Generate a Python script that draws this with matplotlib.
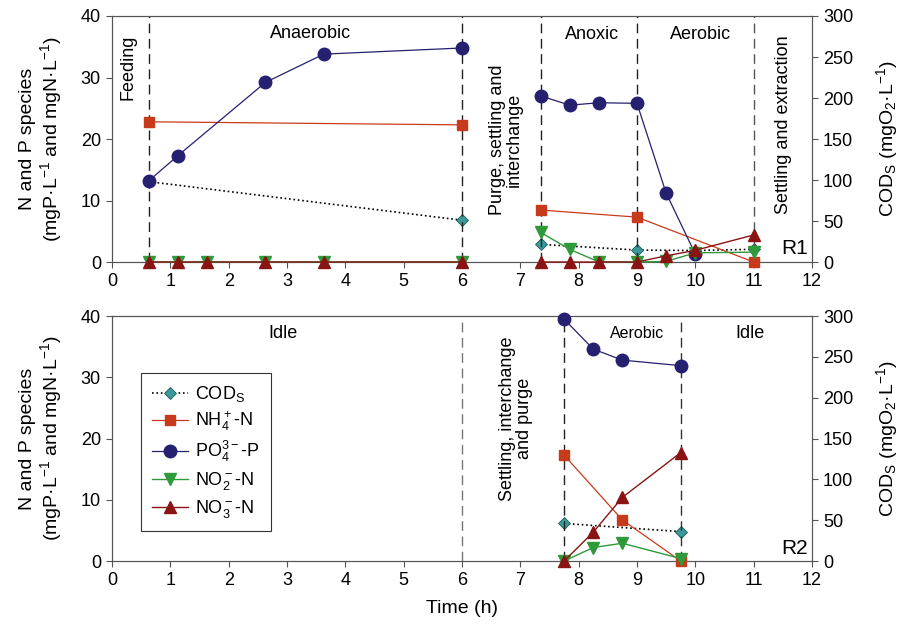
import numpy as np
import matplotlib
matplotlib.use('Agg')
import matplotlib.pyplot as plt

plt.rcParams['font.family'] = ['Liberation Sans', 'DejaVu Sans']
plt.rcParams['mathtext.fontset'] = 'custom'
plt.rcParams['mathtext.rm'] = 'Liberation Sans'

nan = np.nan

# ---- R1 (top panel) ----
r1_t_po4 = [0.63, 1.13, 2.63, 3.63, 6.0, nan, 7.35, 7.85, 8.35, 9.0, 9.5, 10.0]
r1_po4 = [13.2, 17.3, 29.2, 33.8, 34.8, nan, 27.0, 25.5, 25.9, 25.8, 11.2, 1.3]
r1_t_nh4 = [0.63, 6.0, nan, 7.35, 9.0, 11.0]
r1_nh4 = [22.8, 22.3, nan, 8.45, 7.3, 0.0]
r1_t_nox = [0.63, 1.13, 1.63, 2.63, 3.63, 6.0, nan, 7.35, 7.85, 8.35, 9.0, 9.5, 10.0, 11.0]
r1_no2 = [0, 0, 0, 0, 0, 0, nan, 4.8, 2.05, 0, 0, 0.1, 1.5, 1.6]
r1_no3 = [0, 0, 0, 0, 0, 0, nan, 0, 0, 0, 0, 1.0, 1.9, 4.4]
r1_t_cod = [0.63, 6.0, nan, 7.35, 9.0, 10.0, 11.0]
r1_cod = [98, 51, nan, 21.5, 14.6, 14.0, 15.5]
r1_phases = [0.63, 6.0, 7.35, 9.0, 11.0]

# ---- R2 (bottom panel) ----
r2_t = [7.75, 8.25, 8.75, 9.75]
r2_po4 = [39.5, 34.6, 32.8, 31.9]
r2_t_nh4 = [7.75, 8.75, 9.75]
r2_nh4 = [17.3, 6.7, 0.0]
r2_no2 = [0, 2.2, 2.9, 0.4]
r2_no3 = [0, 4.7, 10.4, 17.7]
r2_t_cod = [7.75, 9.75]
r2_cod = [46, 36]
r2_phases = [6.0, 7.75, 9.75]

c_cod = '#3a9a9a'
c_nh4 = '#c83a1c'
c_po4 = '#25206f'
c_no2 = '#2e9a3a'
c_no3 = '#8a1414'
spine_c = '#555555'

labels = [r'COD$\mathregular{_S}$', r'NH$\mathregular{_4^+}$-N', r'PO$\mathregular{_4^{3-}}$-P',
          r'NO$\mathregular{_2^-}$-N', r'NO$\mathregular{_3^-}$-N']

fig = plt.figure(figsize=(9.04, 6.4), dpi=100, facecolor='white')
ax1 = fig.add_axes([0.1239, 0.5906, 0.7743, 0.3844])
ax2 = fig.add_axes([0.1239, 0.1234, 0.7743, 0.3828])

ylab_left = 'N and P species\n(mgP·L$\\mathregular{^{-1}}$ and mgN·L$\\mathregular{^{-1}}$)'
ylab_right = r'COD$\mathregular{_S}$ (mgO$\mathregular{_2}$·L$\mathregular{^{-1}}$)'


def draw_panel(ax, t_po4, po4, t_nh4, nh4, t_nox, no2, no3, t_cod, cod, phases, phase_cols):
    axr = ax.twinx()
    axr.set_zorder(ax.get_zorder() - 1)
    ax.patch.set_visible(False)

    for x, c in zip(phases, phase_cols):
        ax.axvline(x, color=c, lw=1.0, ls=(0, (7, 4)), zorder=1)

    hc, = axr.plot(t_cod, cod, ls=':', color='black', lw=1.2, marker='D',
                   ms=6.5, mfc=c_cod, mec='#1f5a5a', mew=0.6, clip_on=False)
    hn, = ax.plot(t_nh4, nh4, color=c_nh4, lw=0.9, marker='s', ms=6.5,
                  mfc=c_nh4, mec=c_nh4, clip_on=False, zorder=3)
    hp, = ax.plot(t_po4, po4, color=c_po4, lw=0.9, marker='o', ms=9,
                  mfc=c_po4, mec=c_po4, clip_on=False, zorder=4)
    h2, = ax.plot(t_nox, no2, color=c_no2, lw=1.0, marker='v', ms=8,
                  mfc=c_no2, mec=c_no2, clip_on=False, zorder=5)
    h3, = ax.plot(t_nox, no3, color=c_no3, lw=1.0, marker='^', ms=8,
                  mfc=c_no3, mec=c_no3, clip_on=False, zorder=6)

    ax.set_xlim(0, 12)
    ax.set_ylim(0, 40)
    axr.set_ylim(0, 300)
    ax.set_xticks(range(13))
    ax.set_yticks(range(0, 41, 10))
    axr.set_yticks(range(0, 301, 50))
    for a in (ax, axr):
        for s in a.spines.values():
            s.set_color(spine_c)
            s.set_linewidth(0.8)
        a.tick_params(direction='out', length=4, width=0.8, color=spine_c,
                      labelsize=13, pad=4)
    ax.set_ylabel(ylab_left, fontsize=14, labelpad=12, linespacing=1.1)
    axr.set_ylabel(ylab_right, fontsize=14, labelpad=15)
    return [hc, hn, hp, h2, h3]


draw_panel(ax1, r1_t_po4, r1_po4, r1_t_nh4, r1_nh4, r1_t_nox, r1_no2, r1_no3,
           r1_t_cod, r1_cod, r1_phases, ['#222222'] * 4 + ['#555555'])
handles = draw_panel(ax2, r2_t, r2_po4, r2_t_nh4, r2_nh4, r2_t, r2_no2, r2_no3,
                     r2_t_cod, r2_cod, r2_phases, ['#777777', '#222222', '#333333'])

# phase annotations, top panel
fs = 13
ax1.text(0.28, 31.7, 'Feeding', rotation=90, ha='center', va='center', fontsize=fs)
ax1.text(3.41, 37.2, 'Anaerobic', ha='center', va='center', fontsize=fs)
ax1.text(6.75, 19.8, 'Purge, settling and\ninterchange', rotation=90, ha='center',
         va='center', fontsize=fs, linespacing=1.0)
ax1.text(8.23, 37.0, 'Anoxic', ha='center', va='center', fontsize=fs)
ax1.text(10.09, 37.0, 'Aerobic', ha='center', va='center', fontsize=fs)
ax1.text(11.51, 22.3, 'Settling and extraction', rotation=90, ha='center',
         va='center', fontsize=fs)
ax1.text(11.93, 2.2, 'R1', ha='right', va='center', fontsize=15)

# phase annotations, bottom panel
ax2.text(2.93, 37.2, 'Idle', ha='center', va='center', fontsize=fs)
ax2.text(6.92, 23.3, 'Settling, interchange\nand purge', rotation=90, ha='center',
         va='center', fontsize=fs, linespacing=1.0)
ax2.text(9.0, 37.2, 'Aerobic', ha='center', va='center', fontsize=11.5)
ax2.text(10.93, 37.2, 'Idle', ha='center', va='center', fontsize=fs)
ax2.text(11.93, 2.1, 'R2', ha='right', va='center', fontsize=15)

ax2.set_xlabel('Time (h)', fontsize=14, labelpad=8)

leg = ax2.legend(handles, labels, loc='upper left', bbox_to_anchor=(0.041, 0.767),
                 fontsize=13, frameon=True, fancybox=False, handlelength=2.0,
                 labelspacing=0.32, borderpad=0.6, handletextpad=0.4,
                 borderaxespad=0)
leg.get_frame().set_edgecolor('black')
leg.get_frame().set_linewidth(0.8)

fig.savefig('out.png', dpi=100, facecolor='white')
